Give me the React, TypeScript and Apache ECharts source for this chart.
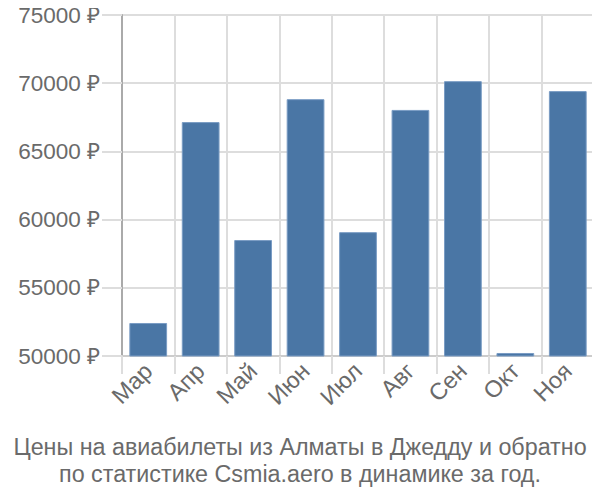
import React, { useEffect, useRef } from "react";
import * as echarts from "echarts";

const months = ["Мар", "Апр", "Май", "Июн", "Июл", "Авг", "Сен", "Окт", "Ноя"];
const prices = [52420, 67150, 58500, 68830, 59080, 68040, 70150, 50220, 69420];
const titleLines = [
  "Цены на авиабилеты из Алматы в Джедду и обратно",
  "по статистике Csmia.aero в динамике за год.",
];

export default function App() {
  const ref = useRef<HTMLDivElement>(null);
  useEffect(() => {
    if (!ref.current) return;
    const chart = echarts.init(ref.current, null, { renderer: "svg" });
    const font = "'Liberation Sans', Arial, sans-serif";
    chart.setOption({
      animation: false,
      textStyle: { fontFamily: font },
      title: {
        text: titleLines.join("\n"),
        left: "center",
        top: 428,
        textStyle: {
          fontFamily: font,
          fontSize: 23.3,
          fontWeight: "normal",
          color: "#6a6a6a",
          lineHeight: 27,
        },
      },
      grid: { left: 122, right: 6, top: 15, bottom: 144, containLabel: false },
      xAxis: {
        type: "category",
        data: months,
        axisLine: { lineStyle: { color: "#ccc", width: 2 } },
        axisTick: { show: true, length: 18, lineStyle: { color: "#ddd", width: 2 } },
        splitLine: { show: true, lineStyle: { color: "#ddd", width: 2 } },
        axisLabel: {
          rotate: 45,
          fontSize: 23.5,
          color: "#6a6a6a",
          margin: 11,
          fontFamily: font,
        },
      },
      yAxis: {
        type: "value",
        min: 50000,
        max: 75000,
        interval: 5000,
        axisLine: { show: true, lineStyle: { color: "#aaa", width: 2 } },
        axisTick: { show: true, length: 20, lineStyle: { color: "#ddd", width: 2 } },
        splitLine: { show: true, lineStyle: { color: "#ddd", width: 2 } },
        axisLabel: {
          fontSize: 22.5,
          color: "#6a6a6a",
          margin: 22,
          fontFamily: font,
          formatter: (v: number) => `${v} ₽`,
        },
      },
      series: [
        {
          type: "bar",
          data: prices,
          barCategoryGap: "28%",
          itemStyle: {
            color: "#4a76a5",
            borderColor: "#7a9cc4",
            borderWidth: 1,
          },
        },
      ],
    });
    return () => chart.dispose();
  }, []);
  return <div ref={ref} style={{ width: 600, height: 500, margin: -8 }} />;
}
